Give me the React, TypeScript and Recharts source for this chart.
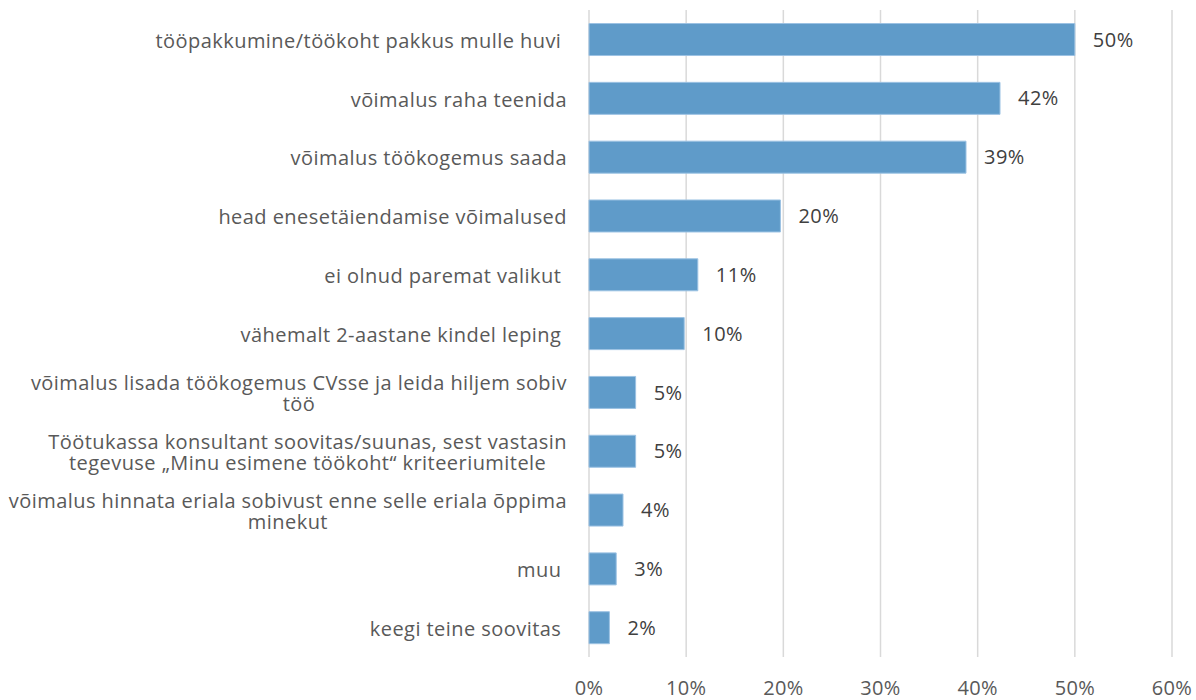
import { BarChart, Bar, XAxis, YAxis, CartesianGrid, LabelList } from "recharts";

const categories = [
  "tööpakkumine/töökoht pakkus mulle huvi ",
  "võimalus raha teenida",
  "võimalus töökogemus saada",
  "head enesetäiendamise võimalused",
  "ei olnud paremat valikut ",
  "vähemalt 2-aastane kindel leping ",
  "võimalus lisada töökogemus CVsse ja leida hiljem sobiv\ntöö",
  "Töötukassa konsultant soovitas/suunas, sest vastasin\ntegevuse „Minu esimene töökoht“ kriteeriumitele",
  "võimalus hinnata eriala sobivust enne selle eriala õppima\nminekut",
  "muu ",
  "keegi teine soovitas ",
];
const shares = [50, 42.3, 38.8, 19.7, 11.2, 9.8, 4.8, 4.8, 3.5, 2.8, 2.1];
const shareLabels = ["50%", "42%", "39%", "20%", "11%", "10%", "5%", "5%", "4%", "3%", "2%"];
const xTicks = [0, 10, 20, 30, 40, 50, 60];

const data = categories.map((name, i) => ({ name, value: shares[i], label: shareLabels[i] }));

const FONT = '"Open Sans", sans-serif';
const LABEL_SIZE = 20;
const SPACING = 0.45;

let ctx: CanvasRenderingContext2D | null = null;
function textWidth(s: string) {
  if (!ctx) ctx = document.createElement("canvas").getContext("2d");
  if (!ctx) return s.length * 10;
  ctx.font = `${LABEL_SIZE}px ${FONT}`;
  return ctx.measureText(s).width + s.length * SPACING;
}

// category labels: Excel-style, block right aligned, wrapped lines centred
function CategoryTick(props: any) {
  const { x, y, payload } = props;
  const lines: string[] = String(payload.value).split("\n");
  const right = x - 14;
  const widest = Math.max(...lines.map(textWidth));
  const lh = 21;
  const top = y - ((lines.length - 1) * lh) / 2;
  return (
    <text
      fill="#595959"
      fontSize={LABEL_SIZE}
      fontFamily={FONT}
      letterSpacing={SPACING}
      xmlSpace="preserve"
    >
      {lines.map((l, i) => (
        <tspan key={i} x={right - widest / 2 - textWidth(l) / 2} y={top + i * lh} dy="0.42em">
          {l}
        </tspan>
      ))}
    </text>
  );
}

export default function App() {
  return (
    <div style={{ position: "absolute", left: 0, top: 0, background: "#fff" }}>
      <BarChart
        width={1196}
        height={700}
        data={data}
        layout="vertical"
        margin={{ top: 10, right: 24, bottom: 0, left: 0 }}
        barCategoryGap="23%"
      >
        <CartesianGrid horizontal={false} stroke="#d9d9d9" strokeWidth={1.5} />
        <XAxis
          type="number"
          domain={[0, 60]}
          ticks={xTicks}
          tickFormatter={(v: number) => `${v}%`}
          axisLine={false}
          tickLine={false}
          tickMargin={18}
          height={43}
          tick={{ fill: "#595959", fontSize: 20, fontFamily: FONT, letterSpacing: 0.3 }}
          interval={0}
        />
        <YAxis
          type="category"
          dataKey="name"
          width={589}
          axisLine={false}
          tickLine={false}
          tick={<CategoryTick />}
          interval={0}
        />
        <Bar dataKey="value" fill="#5f9bc9" stroke="#9cc2e3" strokeWidth={1} isAnimationActive={false}>
          <LabelList
            dataKey="label"
            position="right"
            offset={18}
            fill="#404040"
            fontSize={20}
            fontFamily={FONT}
            letterSpacing={0.5}
          />
        </Bar>
      </BarChart>
    </div>
  );
}
